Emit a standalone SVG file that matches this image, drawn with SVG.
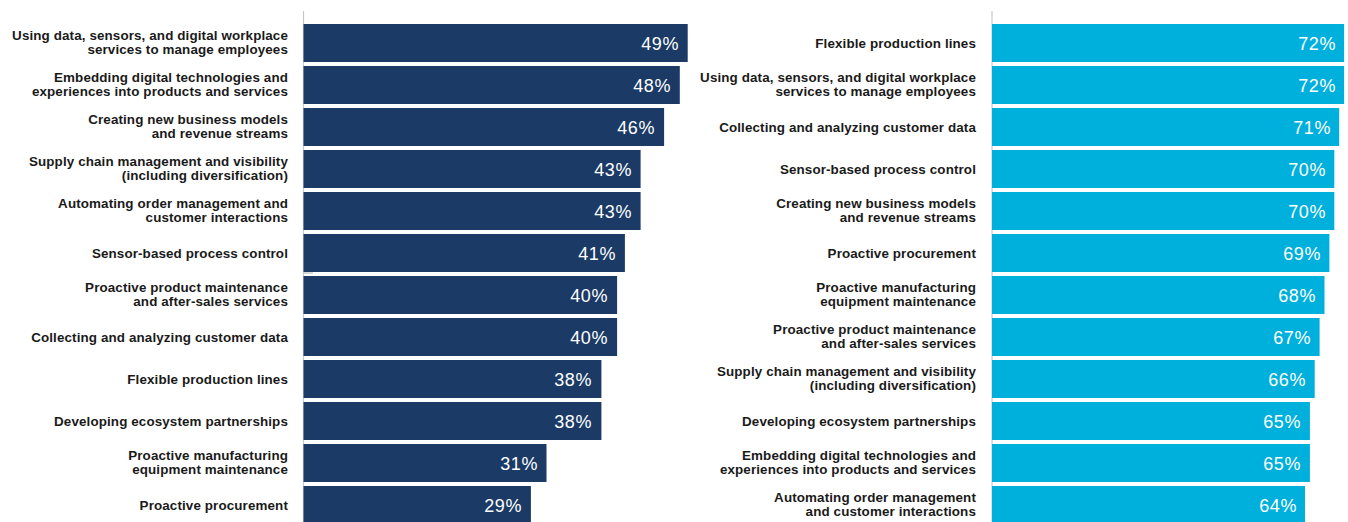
<svg xmlns="http://www.w3.org/2000/svg" width="1348" height="522" viewBox="0 0 1348 522">
<style>
.lbl{font-family:"Liberation Sans",Arial,sans-serif;font-weight:bold;font-size:13.4px;letter-spacing:0.12px;fill:#1a1a1a;text-anchor:end}
.pct{font-family:"Liberation Sans",Arial,sans-serif;font-size:18px;fill:#ffffff;text-anchor:end;letter-spacing:0.6px}
.l{fill:#1b3a66}
.r{fill:#00b0dc}
.ax{stroke:#c8c8c8;stroke-width:1.2}
</style>
<rect width="1348" height="522" fill="#ffffff"/>
<g id="axes">
<line class="ax" x1="303.5" y1="11" x2="303.5" y2="522"/>
<line class="ax" x1="992" y1="11" x2="992" y2="522"/>
<line x1="304" y1="273" x2="313" y2="273" stroke="#b0b0b0" stroke-width="1"/>
</g>
<g id="connectors"></g>
<g id="left-chart">
<g id="L1"><rect class="l" x="303.5" y="24" width="384.2" height="38"/><text class="lbl" x="288" y="39.5">Using data, sensors, and digital workplace</text><text class="lbl" x="288" y="54">services to manage employees</text><text class="pct" x="679" y="50">49%</text></g>
<g id="L2"><rect class="l" x="303.5" y="66" width="376.3" height="38"/><text class="lbl" x="288" y="81.5">Embedding digital technologies and</text><text class="lbl" x="288" y="96">experiences into products and services</text><text class="pct" x="671" y="92">48%</text></g>
<g id="L3"><rect class="l" x="303.5" y="108" width="360.6" height="38"/><text class="lbl" x="288" y="123.5">Creating new business models</text><text class="lbl" x="288" y="138">and revenue streams</text><text class="pct" x="655" y="134">46%</text></g>
<g id="L4"><rect class="l" x="303.5" y="150" width="337.1" height="38"/><text class="lbl" x="288" y="165.5">Supply chain management and visibility</text><text class="lbl" x="288" y="180">(including diversification)</text><text class="pct" x="632" y="176">43%</text></g>
<g id="L5"><rect class="l" x="303.5" y="192" width="337.1" height="38"/><text class="lbl" x="288" y="207.5">Automating order management and</text><text class="lbl" x="288" y="222">customer interactions</text><text class="pct" x="632" y="218">43%</text></g>
<g id="L6"><rect class="l" x="303.5" y="234" width="321.4" height="38"/><text class="lbl" x="288" y="257.5">Sensor-based process control</text><text class="pct" x="616" y="260">41%</text></g>
<g id="L7"><rect class="l" x="303.5" y="276" width="313.6" height="38"/><text class="lbl" x="288" y="291.5">Proactive product maintenance</text><text class="lbl" x="288" y="306">and after-sales services</text><text class="pct" x="608" y="302">40%</text></g>
<g id="L8"><rect class="l" x="303.5" y="318" width="313.6" height="38"/><text class="lbl" x="288" y="341.5">Collecting and analyzing customer data</text><text class="pct" x="608" y="344">40%</text></g>
<g id="L9"><rect class="l" x="303.5" y="360" width="297.9" height="38"/><text class="lbl" x="288" y="383.5">Flexible production lines</text><text class="pct" x="592" y="386">38%</text></g>
<g id="L10"><rect class="l" x="303.5" y="402" width="297.9" height="38"/><text class="lbl" x="288" y="425.5">Developing ecosystem partnerships</text><text class="pct" x="592" y="428">38%</text></g>
<g id="L11"><rect class="l" x="303.5" y="444" width="243.0" height="38"/><text class="lbl" x="288" y="459.5">Proactive manufacturing</text><text class="lbl" x="288" y="474">equipment maintenance</text><text class="pct" x="538" y="470">31%</text></g>
<g id="L12"><rect class="l" x="303.5" y="486" width="227.4" height="38"/><text class="lbl" x="288" y="509.5">Proactive procurement</text><text class="pct" x="522" y="512">29%</text></g>
</g>
<g id="right-chart">
<g id="R1"><rect class="r" x="992" y="24" width="352.1" height="38"/><text class="lbl" x="976" y="47.5">Flexible production lines</text><text class="pct" x="1336" y="50">72%</text></g>
<g id="R2"><rect class="r" x="992" y="66" width="352.1" height="38"/><text class="lbl" x="976" y="81.5">Using data, sensors, and digital workplace</text><text class="lbl" x="976" y="96">services to manage employees</text><text class="pct" x="1336" y="92">72%</text></g>
<g id="R3"><rect class="r" x="992" y="108" width="347.2" height="38"/><text class="lbl" x="976" y="131.5">Collecting and analyzing customer data</text><text class="pct" x="1331" y="134">71%</text></g>
<g id="R4"><rect class="r" x="992" y="150" width="342.3" height="38"/><text class="lbl" x="976" y="173.5">Sensor-based process control</text><text class="pct" x="1326" y="176">70%</text></g>
<g id="R5"><rect class="r" x="992" y="192" width="342.3" height="38"/><text class="lbl" x="976" y="207.5">Creating new business models</text><text class="lbl" x="976" y="222">and revenue streams</text><text class="pct" x="1326" y="218">70%</text></g>
<g id="R6"><rect class="r" x="992" y="234" width="337.4" height="38"/><text class="lbl" x="976" y="257.5">Proactive procurement</text><text class="pct" x="1321" y="260">69%</text></g>
<g id="R7"><rect class="r" x="992" y="276" width="332.5" height="38"/><text class="lbl" x="976" y="291.5">Proactive manufacturing</text><text class="lbl" x="976" y="306">equipment maintenance</text><text class="pct" x="1316" y="302">68%</text></g>
<g id="R8"><rect class="r" x="992" y="318" width="327.6" height="38"/><text class="lbl" x="976" y="333.5">Proactive product maintenance</text><text class="lbl" x="976" y="348">and after-sales services</text><text class="pct" x="1311" y="344">67%</text></g>
<g id="R9"><rect class="r" x="992" y="360" width="322.7" height="38"/><text class="lbl" x="976" y="375.5">Supply chain management and visibility</text><text class="lbl" x="976" y="390">(including diversification)</text><text class="pct" x="1306" y="386">66%</text></g>
<g id="R10"><rect class="r" x="992" y="402" width="317.9" height="38"/><text class="lbl" x="976" y="425.5">Developing ecosystem partnerships</text><text class="pct" x="1301" y="428">65%</text></g>
<g id="R11"><rect class="r" x="992" y="444" width="317.9" height="38"/><text class="lbl" x="976" y="459.5">Embedding digital technologies and</text><text class="lbl" x="976" y="474">experiences into products and services</text><text class="pct" x="1301" y="470">65%</text></g>
<g id="R12"><rect class="r" x="992" y="486" width="313.0" height="38"/><text class="lbl" x="976" y="501.5">Automating order management</text><text class="lbl" x="976" y="516">and customer interactions</text><text class="pct" x="1297" y="512">64%</text></g>
</g>
</svg>
